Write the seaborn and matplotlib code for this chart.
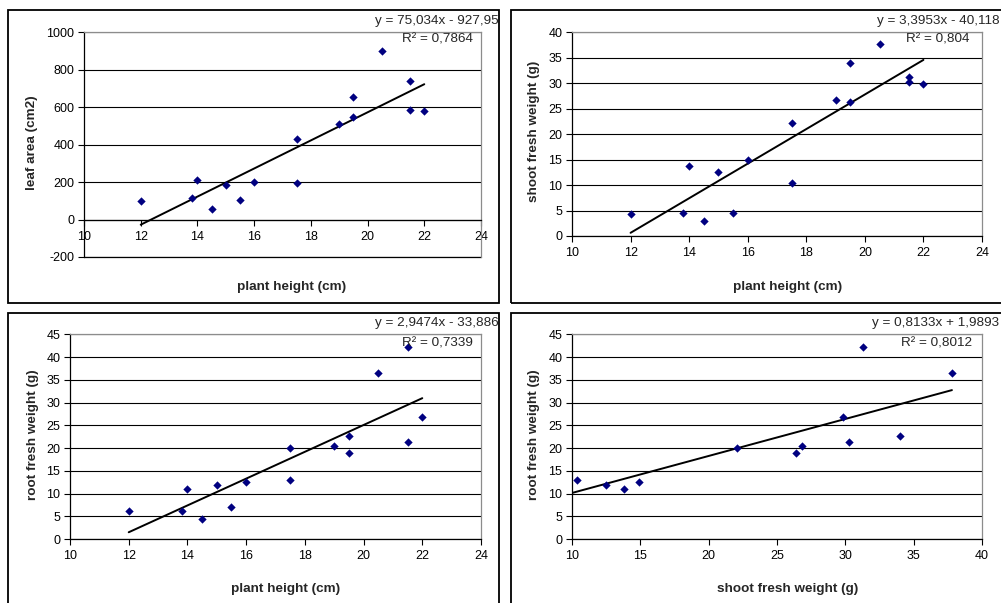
import matplotlib
matplotlib.use("Agg")
import matplotlib.pyplot as plt
import seaborn as sns
from matplotlib.patches import Rectangle
from matplotlib.ticker import MultipleLocator

# measured values, one entry per plant
plant_height = [12, 13.8, 14, 14.5, 15, 15.5, 16, 17.5, 17.5, 19, 19.5, 19.5, 20.5, 21.5, 21.5, 22]
leaf_area = [100, 116, 209, 55, 187, 105, 198, 429, 193, 511, 657, 550, 900, 741, 587, 582]
shoot_fw = [4.4, 4.6, 13.8, 3.0, 12.5, 4.6, 14.9, 22.1, 10.4, 26.8, 34.0, 26.4, 37.8, 31.3, 30.3, 29.8]
root_fw = [6.1, 6.1, 11.1, 4.5, 11.9, 7.0, 12.6, 19.9, 13.0, 20.5, 22.7, 18.9, 36.4, 42.1, 21.4, 26.8]

# Excel trendline coefficients as printed on the chart
slopes = [75.034, 3.3953, 2.9474, 0.8133]
intercepts = [-927.95, -40.118, -33.886, 1.9893]
eq_labels = ["y = 75,034x - 927,95", "y = 3,3953x - 40,118",
             "y = 2,9474x - 33,886", "y = 0,8133x + 1,9893"]
r2_labels = ["R² = 0,7864", "R² = 0,804", "R² = 0,7339", "R² = 0,8012"]

x_labels = ["plant height (cm)", "plant height (cm)", "plant height (cm)", "shoot fresh weight (g)"]
y_labels = ["leaf area (cm2)", "shoot fresh weight (g)", "root fresh weight (g)", "root fresh weight (g)"]

sns.set_style("white")
plt.rcParams["font.family"] = ["Liberation Sans", "DejaVu Sans"]
plt.rcParams["axes.unicode_minus"] = False

W, H = 1001, 603
fig = plt.figure(figsize=(W / 100, H / 100), dpi=100)


def fig_box(l, t, r, b):
    return [l / W, 1 - b / H, (r - l) / W, (b - t) / H]


def fx(x):
    return x / W


def fy(y):
    return 1 - y / H


# layout in pixels: plot area, outer frame, text anchors
layout = [
    dict(plot=(84, 32.3, 481, 257), frame=(8, 10, 499, 303), eq=(437, 21), r2=(437, 40),
         xl=(292, 287), yl=(32, 143)),
    dict(plot=(572, 32.3, 982, 236), frame=(511, 10, 1010, 303), eq=(938, 21), r2=(938, 40),
         xl=(788, 287), yl=(534, 131)),
    dict(plot=(70, 334.3, 481, 539), frame=(8, 313, 499, 610), eq=(437, 323), r2=(437, 343),
         xl=(286, 589), yl=(33, 435)),
    dict(plot=(572, 334.3, 982, 539), frame=(511, 313, 1010, 610), eq=(936, 323), r2=(937, 343),
         xl=(788, 589), yl=(534, 435)),
]

series = [(plant_height, leaf_area), (plant_height, shoot_fw),
          (plant_height, root_fw), (shoot_fw, root_fw)]
xlims = [(10, 24), (10, 24), (10, 24), (10, 40)]
xsteps = [2, 2, 2, 5]
ylims = [(-200, 1000), (0, 40), (0, 45), (0, 45)]
ysteps = [200, 5, 5, 5]

for i, lay in enumerate(layout):
    fl, ft, fr, fb = lay["frame"]
    fig.add_artist(Rectangle((fx(fl), fy(fb)), (fr - fl) / W, (fb - ft) / H,
                             transform=fig.transFigure, fill=False,
                             edgecolor="black", linewidth=1.3))

    ax = fig.add_axes(fig_box(*lay["plot"]))
    xs, ys = series[i]

    ax.set_xlim(*xlims[i])
    ax.set_ylim(*ylims[i])
    ax.xaxis.set_major_locator(MultipleLocator(xsteps[i]))
    ax.yaxis.set_major_locator(MultipleLocator(ysteps[i]))

    ax.set_axisbelow(True)
    ax.yaxis.grid(True, color="black", linewidth=0.8)
    ax.xaxis.grid(False)

    for side in ["top", "right"]:
        ax.spines[side].set_color("#8c8c8c")
        ax.spines[side].set_linewidth(0.9)
    for side in ["left", "bottom"]:
        ax.spines[side].set_color("black")
        ax.spines[side].set_linewidth(0.9)
    if ylims[i][0] < 0:
        ax.spines["bottom"].set_position(("data", 0))
        # lower edge of the plot area sits at the bottom tick
        ax.axhline(ylims[i][0], color="black", linewidth=0.9, clip_on=False, zorder=1)

    ax.tick_params(axis="both", which="major", direction="out", length=4, width=0.8,
                   color="black", labelsize=9, labelcolor="black")
    ax.tick_params(axis="x", pad=4)
    ax.tick_params(axis="y", pad=3)
    ax.tick_params(bottom=True, left=True)

    # trendline over the data range
    x0, x1 = min(xs), max(xs)
    sns.lineplot(x=[x0, x1], y=[slopes[i] * x0 + intercepts[i], slopes[i] * x1 + intercepts[i]],
                 color="black", linewidth=1.4, ax=ax, zorder=2)
    sns.scatterplot(x=xs, y=ys, marker="D", s=18, color="#000080", edgecolor="#000080",
                    linewidth=0, ax=ax, zorder=3)

    ax.set_xlabel("")
    ax.set_ylabel("")

    fig.text(fx(lay["eq"][0]), fy(lay["eq"][1]), eq_labels[i], ha="center", va="center",
             fontsize=9.7)
    fig.text(fx(lay["r2"][0]), fy(lay["r2"][1]), r2_labels[i], ha="center", va="center",
             fontsize=9.7)
    fig.text(fx(lay["xl"][0]), fy(lay["xl"][1]), x_labels[i], ha="center", va="center",
             fontsize=9.7, fontweight="bold")
    fig.text(fx(lay["yl"][0]), fy(lay["yl"][1]), y_labels[i], ha="center", va="center",
             fontsize=9.7, fontweight="bold", rotation=90)

fig.savefig("out.png", dpi=100)
